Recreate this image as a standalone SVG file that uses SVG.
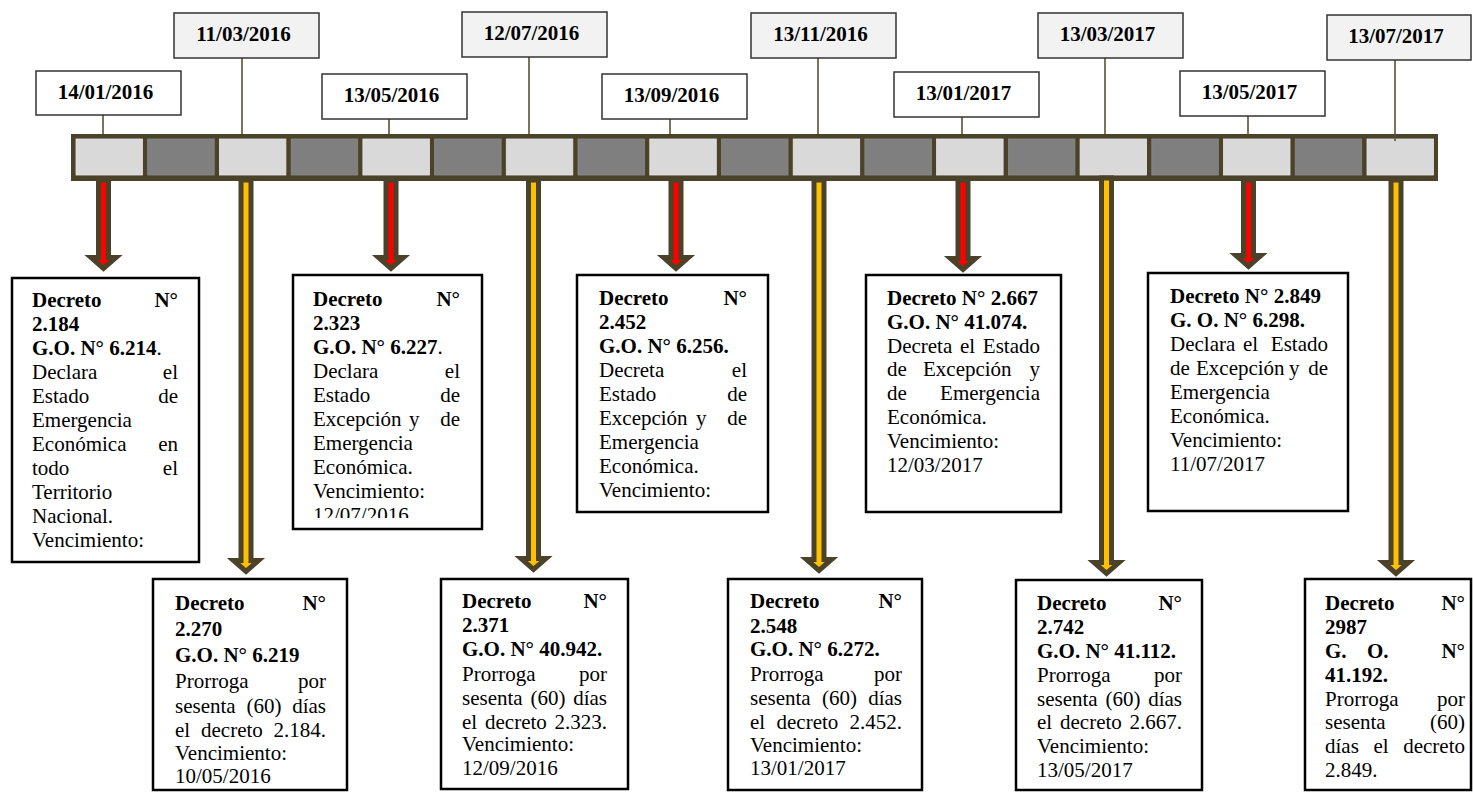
<svg xmlns="http://www.w3.org/2000/svg" width="1473" height="792" viewBox="0 0 1473 792">
<style>
text{font-family:"Liberation Serif","Times New Roman",serif;font-size:21px;fill:#000}
.b{font-weight:bold}
.e{text-anchor:end}
.m{text-anchor:middle}
.box{fill:#fff;stroke:#000;stroke-width:2.5}
.dw{fill:#fff;stroke:#333;stroke-width:1.5}
.dg{fill:#f2f2f2;stroke:#333;stroke-width:1.5}
.lt{fill:#d9d9d9;stroke:#e6e6e6;stroke-width:0.8}
.dk{fill:#7f7f7f;stroke:#8a8a8a;stroke-width:0.8}
.stem{stroke:#5a5035;stroke-width:1.6;fill:none}
.arr{stroke:#4b4329;stroke-width:5;stroke-linejoin:miter}
.red{fill:#ff0000}
.yel{fill:#ffc000}
</style>
<defs>
<clipPath id="clipB"><rect x="293" y="275" width="189" height="243"/></clipPath>
</defs>
<rect width="1473" height="792" fill="#fff"/>

<g id="timeline">
<rect x="71" y="134" width="1367" height="47" fill="#4b4329"/>
<rect class="lt" x="76" y="139" width="66.5" height="36"/>
<rect class="dk" x="147.7" y="139" width="66.5" height="36"/>
<rect class="lt" x="219.4" y="139" width="66.5" height="36"/>
<rect class="dk" x="291.2" y="139" width="66.5" height="36"/>
<rect class="lt" x="362.9" y="139" width="66.5" height="36"/>
<rect class="dk" x="434.6" y="139" width="66.5" height="36"/>
<rect class="lt" x="506.3" y="139" width="66.5" height="36"/>
<rect class="dk" x="578" y="139" width="66.5" height="36"/>
<rect class="lt" x="649.8" y="139" width="66.5" height="36"/>
<rect class="dk" x="721.5" y="139" width="66.5" height="36"/>
<rect class="lt" x="793.2" y="139" width="66.5" height="36"/>
<rect class="dk" x="864.9" y="139" width="66.5" height="36"/>
<rect class="lt" x="936.6" y="139" width="66.5" height="36"/>
<rect class="dk" x="1008.4" y="139" width="66.5" height="36"/>
<rect class="lt" x="1080.1" y="139" width="66.5" height="36"/>
<rect class="dk" x="1151.8" y="139" width="66.5" height="36"/>
<rect class="lt" x="1223.5" y="139" width="66.5" height="36"/>
<rect class="dk" x="1295.2" y="139" width="66.5" height="36"/>
<rect class="lt" x="1367" y="139" width="66.5" height="36"/>
</g>

<g id="connectors">
<line class="stem" x1="103" y1="115" x2="103" y2="134"/>
<line class="stem" x1="242" y1="58" x2="242" y2="134"/>
<line class="stem" x1="389" y1="119" x2="389" y2="134"/>
<line class="stem" x1="529" y1="57" x2="529" y2="134"/>
<line class="stem" x1="670" y1="119" x2="670" y2="134"/>
<line class="stem" x1="818" y1="58" x2="818" y2="134"/>
<line class="stem" x1="962" y1="117" x2="962" y2="134"/>
<line class="stem" x1="1105" y1="58" x2="1105" y2="134"/>
<line class="stem" x1="1248" y1="116" x2="1248" y2="134"/>
<line class="stem" x1="1395" y1="60" x2="1395" y2="141"/>
<path class="arr red" d="M98.5 180V257.5H91L103.5 268.5L116 257.5H108.5V180Z"/>
<path class="arr yel" d="M241 180V560.5H233.5L246 571.5L258.5 560.5H251V180Z"/>
<path class="arr red" d="M386 180V257.5H378.5L391 268.5L403.5 257.5H396V180Z"/>
<path class="arr yel" d="M528.5 180V558.5H521L533.5 569.5L546 558.5H538.5V180Z"/>
<path class="arr red" d="M671 180V257.5H663.5L676 268.5L688.5 257.5H681V180Z"/>
<path class="arr yel" d="M814 180V559.5H806.5L819 570.5L831.5 559.5H824V180Z"/>
<path class="arr red" d="M958 180V258.5H950.5L963 269.5L975.5 258.5H968V180Z"/>
<path class="arr yel" d="M1101.5 178V562.5H1094L1106.5 573.5L1119 562.5H1111.5V178Z"/>
<path class="arr red" d="M1243.5 180V255.5H1236L1248.5 266.5L1261 255.5H1253.5V180Z"/>
<path class="arr yel" d="M1391 180V562.5H1383.5L1396 573.5L1408.5 562.5H1401V180Z"/>
</g>

<g id="date-1"><rect class="dw" x="36" y="71" width="145" height="44"/><text class="b m" x="105.5" y="99">14/01/2016</text></g>
<g id="date-2"><rect class="dg" x="174" y="13" width="145" height="45"/><text class="b m" x="243.5" y="41">11/03/2016</text></g>
<g id="date-3"><rect class="dw" x="322" y="74" width="145" height="45"/><text class="b m" x="391.5" y="102">13/05/2016</text></g>
<g id="date-4"><rect class="dg" x="462" y="12" width="145" height="45"/><text class="b m" x="531.5" y="40">12/07/2016</text></g>
<g id="date-5"><rect class="dw" x="602" y="74" width="145" height="45"/><text class="b m" x="671.5" y="102">13/09/2016</text></g>
<g id="date-6"><rect class="dg" x="751" y="13" width="145" height="45"/><text class="b m" x="820.5" y="41">13/11/2016</text></g>
<g id="date-7"><rect class="dw" x="894" y="72" width="145" height="45"/><text class="b m" x="963.5" y="100">13/01/2017</text></g>
<g id="date-8"><rect class="dg" x="1038" y="13" width="145" height="45"/><text class="b m" x="1107.5" y="41">13/03/2017</text></g>
<g id="date-9"><rect class="dw" x="1180" y="71" width="145" height="45"/><text class="b m" x="1249.5" y="99">13/05/2017</text></g>
<g id="date-10"><rect class="dg" x="1327" y="15" width="144" height="45"/><text class="b m" x="1396" y="43">13/07/2017</text></g>

<g id="decreto-2184">
<rect class="box" x="12" y="278" width="187" height="284"/>
<text class="b" x="32" y="307">Decreto</text><text class="b e" x="178" y="307">N°</text>
<text class="b" x="32" y="331">2.184</text>
<text x="32" y="355"><tspan class="b">G.O. N° 6.214</tspan>.</text>
<text x="32" y="379">Declara</text><text class="e" x="178" y="379">el</text>
<text x="32" y="403">Estado</text><text class="e" x="178" y="403">de</text>
<text x="32" y="427">Emergencia</text>
<text x="32" y="451">Económica</text><text class="e" x="178" y="451">en</text>
<text x="32" y="475">todo</text><text class="e" x="178" y="475">el</text>
<text x="32" y="499">Territorio</text>
<text x="32" y="523">Nacional.</text>
<text x="32" y="547">Vencimiento:</text>
</g>

<g id="decreto-2323">
<rect class="box" x="293" y="275" width="189" height="254"/>
<g clip-path="url(#clipB)">
<text class="b" x="313" y="306">Decreto</text><text class="b e" x="460" y="306">N°</text>
<text class="b" x="313" y="330">2.323</text>
<text x="313" y="354"><tspan class="b">G.O. N° 6.227</tspan>.</text>
<text x="313" y="378">Declara</text><text class="e" x="460" y="378">el</text>
<text x="313" y="402">Estado</text><text class="e" x="460" y="402">de</text>
<text x="313" y="426">Excepción</text><text x="409" y="426">y</text><text class="e" x="460" y="426">de</text>
<text x="313" y="450">Emergencia</text>
<text x="313" y="474">Económica.</text>
<text x="313" y="498">Vencimiento:</text>
<text x="313" y="522">12/07/2016</text>
</g>
</g>

<g id="decreto-2452">
<rect class="box" x="577" y="275" width="191" height="237"/>
<text class="b" x="599" y="305">Decreto</text><text class="b e" x="747" y="305">N°</text>
<text class="b" x="599" y="329">2.452</text>
<text class="b" x="599" y="353">G.O. N° 6.256.</text>
<text x="599" y="377">Decreta</text><text class="e" x="747" y="377">el</text>
<text x="599" y="401">Estado</text><text class="e" x="747" y="401">de</text>
<text x="599" y="425">Excepción</text><text x="696" y="425">y</text><text class="e" x="747" y="425">de</text>
<text x="599" y="449">Emergencia</text>
<text x="599" y="473">Económica.</text>
<text x="599" y="497">Vencimiento:</text>
</g>

<g id="decreto-2667">
<rect class="box" x="866" y="275" width="195" height="237"/>
<text class="b" x="887" y="305">Decreto N° 2.667</text>
<text class="b" x="887" y="329">G.O. N° 41.074.</text>
<text x="887" y="353">Decreta</text><text x="960" y="353">el</text><text class="e" x="1040" y="353">Estado</text>
<text x="887" y="376">de</text><text x="923" y="376">Excepción</text><text class="e" x="1040" y="376">y</text>
<text x="887" y="400">de</text><text class="e" x="1040" y="400">Emergencia</text>
<text x="887" y="424">Económica.</text>
<text x="887" y="448">Vencimiento:</text>
<text x="887" y="472">12/03/2017</text>
</g>

<g id="decreto-2849">
<rect class="box" x="1148" y="273" width="200" height="238"/>
<text class="b" x="1170" y="303">Decreto N° 2.849</text>
<text class="b" x="1170" y="327">G. O. N° 6.298.</text>
<text x="1170" y="351">Declara</text><text x="1243" y="351">el</text><text class="e" x="1328" y="351">Estado</text>
<text x="1170" y="375">de</text><text x="1196" y="375">Excepción</text><text x="1289" y="375">y</text><text class="e" x="1328" y="375">de</text>
<text x="1170" y="399">Emergencia</text>
<text x="1170" y="423">Económica.</text>
<text x="1170" y="447">Vencimiento:</text>
<text x="1170" y="471">11/07/2017</text>
</g>

<g id="decreto-2270">
<rect class="box" x="153" y="579" width="194" height="211"/>
<text class="b" x="175" y="610">Decreto</text><text class="b e" x="326" y="610">N°</text>
<text class="b" x="175" y="636">2.270</text>
<text class="b" x="175" y="662">G.O. N° 6.219</text>
<text x="175" y="688">Prorroga</text><text class="e" x="326" y="688">por</text>
<text x="175" y="713">sesenta</text><text x="246.4" y="713">(60)</text><text class="e" x="326" y="713">días</text>
<text x="175" y="737">el</text><text x="201" y="737">decreto</text><text class="e" x="326" y="737">2.184.</text>
<text x="175" y="760">Vencimiento:</text>
<text x="175" y="783">10/05/2016</text>
</g>

<g id="decreto-2371">
<rect class="box" x="441" y="579" width="187" height="210"/>
<text class="b" x="462" y="608">Decreto</text><text class="b e" x="607" y="608">N°</text>
<text class="b" x="462" y="632">2.371</text>
<text class="b" x="462" y="656">G.O. N° 40.942.</text>
<text x="462" y="681">Prorroga</text><text class="e" x="607" y="681">por</text>
<text x="462" y="705">sesenta</text><text x="530.4" y="705">(60)</text><text class="e" x="607" y="705">días</text>
<text x="462" y="729">el</text><text x="485" y="729">decreto</text><text class="e" x="607" y="729">2.323.</text>
<text x="462" y="751">Vencimiento:</text>
<text x="462" y="775">12/09/2016</text>
</g>

<g id="decreto-2548">
<rect class="box" x="728" y="579" width="194" height="211"/>
<text class="b" x="750" y="608">Decreto</text><text class="b e" x="902" y="608">N°</text>
<text class="b" x="750" y="633">2.548</text>
<text class="b" x="750" y="656">G.O. N° 6.272.</text>
<text x="750" y="681">Prorroga</text><text class="e" x="902" y="681">por</text>
<text x="750" y="705">sesenta</text><text x="821.9" y="705">(60)</text><text class="e" x="902" y="705">días</text>
<text x="750" y="729">el</text><text x="776.5" y="729">decreto</text><text class="e" x="902" y="729">2.452.</text>
<text x="750" y="752">Vencimiento:</text>
<text x="750" y="775">13/01/2017</text>
</g>

<g id="decreto-2742">
<rect class="box" x="1016" y="580" width="186" height="210"/>
<text class="b" x="1037" y="610">Decreto</text><text class="b e" x="1182" y="610">N°</text>
<text class="b" x="1037" y="634">2.742</text>
<text class="b" x="1037" y="658">G.O. N° 41.112.</text>
<text x="1037" y="682">Prorroga</text><text class="e" x="1182" y="682">por</text>
<text x="1037" y="706">sesenta</text><text x="1105.4" y="706">(60)</text><text class="e" x="1182" y="706">días</text>
<text x="1037" y="729">el</text><text x="1060" y="729">decreto</text><text class="e" x="1182" y="729">2.667.</text>
<text x="1037" y="753">Vencimiento:</text>
<text x="1037" y="777">13/05/2017</text>
</g>

<g id="decreto-2987">
<rect class="box" x="1305" y="579" width="166" height="211"/>
<text class="b" x="1325" y="610">Decreto</text><text class="b e" x="1465" y="610">N°</text>
<text class="b" x="1325" y="634">2987</text>
<text class="b" x="1325" y="658">G.</text><text class="b" x="1367" y="658">O.</text><text class="b e" x="1465" y="658">N°</text>
<text class="b" x="1325" y="682">41.192.</text>
<text x="1325" y="706">Prorroga</text><text class="e" x="1465" y="706">por</text>
<text x="1325" y="729">sesenta</text><text class="e" x="1465" y="729">(60)</text>
<text x="1325" y="753">días</text><text x="1373.4" y="753">el</text><text class="e" x="1465" y="753">decreto</text>
<text x="1325" y="777">2.849.</text>
</g>
</svg>
